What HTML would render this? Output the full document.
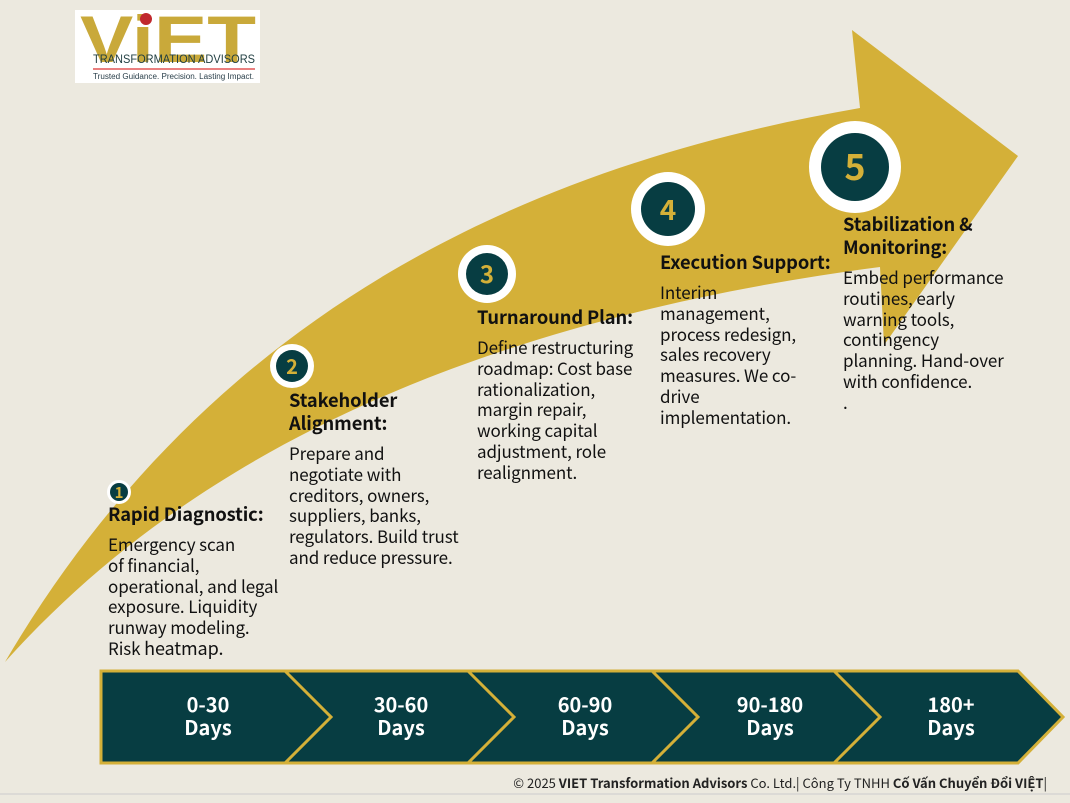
<!DOCTYPE html>
<html><head><meta charset="utf-8">
<style>
html,body{margin:0;padding:0;background:#ece9df;}
body{width:1070px;height:803px;position:relative;overflow:hidden;font-family:"Noto Sans CJK SC","Liberation Sans",sans-serif;}
.t{position:absolute;color:#111;font-size:17px;line-height:20.8px;letter-spacing:-0.1px;}
.t b{font-size:18.3px;display:block;line-height:23px;margin-bottom:8px;}
.ft{position:absolute;left:0;width:1047px;text-align:right;top:773px;font-size:13px;color:#222;}
</style></head><body>
<svg width="1070" height="803" style="position:absolute;left:0;top:0">
<defs>
<linearGradient id="dl" x1="0" y1="0" x2="0" y2="1"><stop offset="0" stop-color="#2f4a3a"/><stop offset="0.5" stop-color="#5f6a45"/><stop offset="1" stop-color="#c9ab45"/></linearGradient>
</defs>
<path d="M5,662 C200,330 500,170 860,108 L852,30 L1018,156 L884,345 L880,267 C400,330 150,500 5,662 Z" fill="#d4b038"/>
<g stroke="url(#dl)" stroke-width="2" stroke-dasharray="11,6" fill="none">
<line x1="284" y1="400" x2="284" y2="666"/>
<line x1="466" y1="318" x2="466" y2="666"/>
<line x1="651" y1="250" x2="651" y2="666"/>
<line x1="834" y1="222" x2="834" y2="666"/>
</g>
<g font-family="Noto Sans CJK SC, Liberation Sans, sans-serif" font-weight="bold" fill="#d4b038" text-anchor="middle">
<circle cx="119" cy="492" r="12" fill="#fff"/><circle cx="119" cy="492" r="9" fill="#073d42"/><text x="119" y="498" font-size="15">1</text>
<circle cx="292" cy="366" r="22" fill="#fff"/><circle cx="292" cy="366" r="16" fill="#073d42"/><text x="292" y="374" font-size="20">2</text>
<circle cx="487" cy="274" r="29" fill="#fff"/><circle cx="487" cy="274" r="21" fill="#073d42"/><text x="487" y="283" font-size="24">3</text>
<circle cx="668" cy="209" r="37" fill="#fff"/><circle cx="668" cy="209" r="27" fill="#073d42"/><text x="668" y="220" font-size="28">4</text>
<circle cx="855" cy="167" r="46" fill="#fff"/><circle cx="855" cy="167" r="34" fill="#073d42"/><text x="855" y="180" font-size="36">5</text>
</g>
<path d="M101,671 L1018,671 L1063,717 L1018,763 L101,763 Z" fill="#073d42" stroke="#d4b038" stroke-width="3"/>
<g stroke="#d4b038" stroke-width="3" fill="none">
<path d="M285,671 L331,717 L285,763"/>
<path d="M468,671 L514,717 L468,763"/>
<path d="M652,671 L698,717 L652,763"/>
<path d="M834,671 L880,717 L834,763"/>
</g>
<g font-family="Noto Sans CJK SC, Liberation Sans, sans-serif" font-weight="bold" fill="#fff" font-size="20" text-anchor="middle">
<text x="208" y="712">0-30</text><text x="208" y="735">Days</text>
<text x="401" y="712">30-60</text><text x="401" y="735">Days</text>
<text x="585" y="712">60-90</text><text x="585" y="735">Days</text>
<text x="770" y="712">90-180</text><text x="770" y="735">Days</text>
<text x="951" y="712">180+</text><text x="951" y="735">Days</text>
</g>
<line x1="0" y1="794" x2="1070" y2="794" stroke="#ccc" stroke-width="1"/>
<rect x="75" y="10" width="185" height="73" fill="#fff"/>
<text x="80" y="62" font-family="Liberation Sans, sans-serif" font-weight="bold" font-size="66" fill="#c9a93a" textLength="176" lengthAdjust="spacingAndGlyphs">ViET</text>
<circle cx="146" cy="19" r="6" fill="#c0282d"/>
<text x="93" y="63" font-family="Liberation Sans, sans-serif" font-size="12" fill="#1f3d40" textLength="162" lengthAdjust="spacingAndGlyphs">TRANSFORMATION  ADVISORS</text>
<line x1="93" y1="69" x2="255" y2="69" stroke="#d33" stroke-width="1.2"/>
<text x="93" y="79" font-family="Liberation Sans, sans-serif" font-size="8" fill="#2a3f4a" textLength="161" lengthAdjust="spacingAndGlyphs">Trusted Guidance.   Precision.   Lasting Impact.</text>
</svg>
<div class="t" style="left:108px;top:503px;width:190px"><b>Rapid Diagnostic:</b>Emergency scan<br>of financial,<br>operational, and legal<br>exposure. Liquidity<br>runway modeling.<br>Risk <span style="font-size:18px">heatmap.</span></div>
<div class="t" style="left:289px;top:389px;width:190px"><b>Stakeholder<br>Alignment:</b>Prepare and<br>negotiate with<br>creditors, owners,<br>suppliers, banks,<br>regulators. Build trust<br>and reduce pressure.</div>
<div class="t" style="left:477px;top:306px;width:185px"><b>Turnaround Plan:</b>Define restructuring<br>roadmap: Cost base<br>rationalization,<br>margin repair,<br>working capital<br>adjustment, role<br>realignment.</div>
<div class="t" style="left:660px;top:251px;width:190px"><b>Execution Support:</b>Interim<br>management,<br>process redesign,<br>sales recovery<br>measures. We co-<br>drive<br>implementation.</div>
<div class="t" style="left:843px;top:213px;width:200px"><b>Stabilization &amp;<br>Monitoring:</b>Embed performance<br>routines, early<br>warning tools,<br>contingency<br>planning. Hand-over<br>with confidence.<br>.</div>
<div class="ft">© 2025 <b>VIET Transformation Advisors</b> Co. Ltd.| Công Ty TNHH <b>Cố Vấn Chuyển Đổi VIỆT</b>|</div>
</body></html>
